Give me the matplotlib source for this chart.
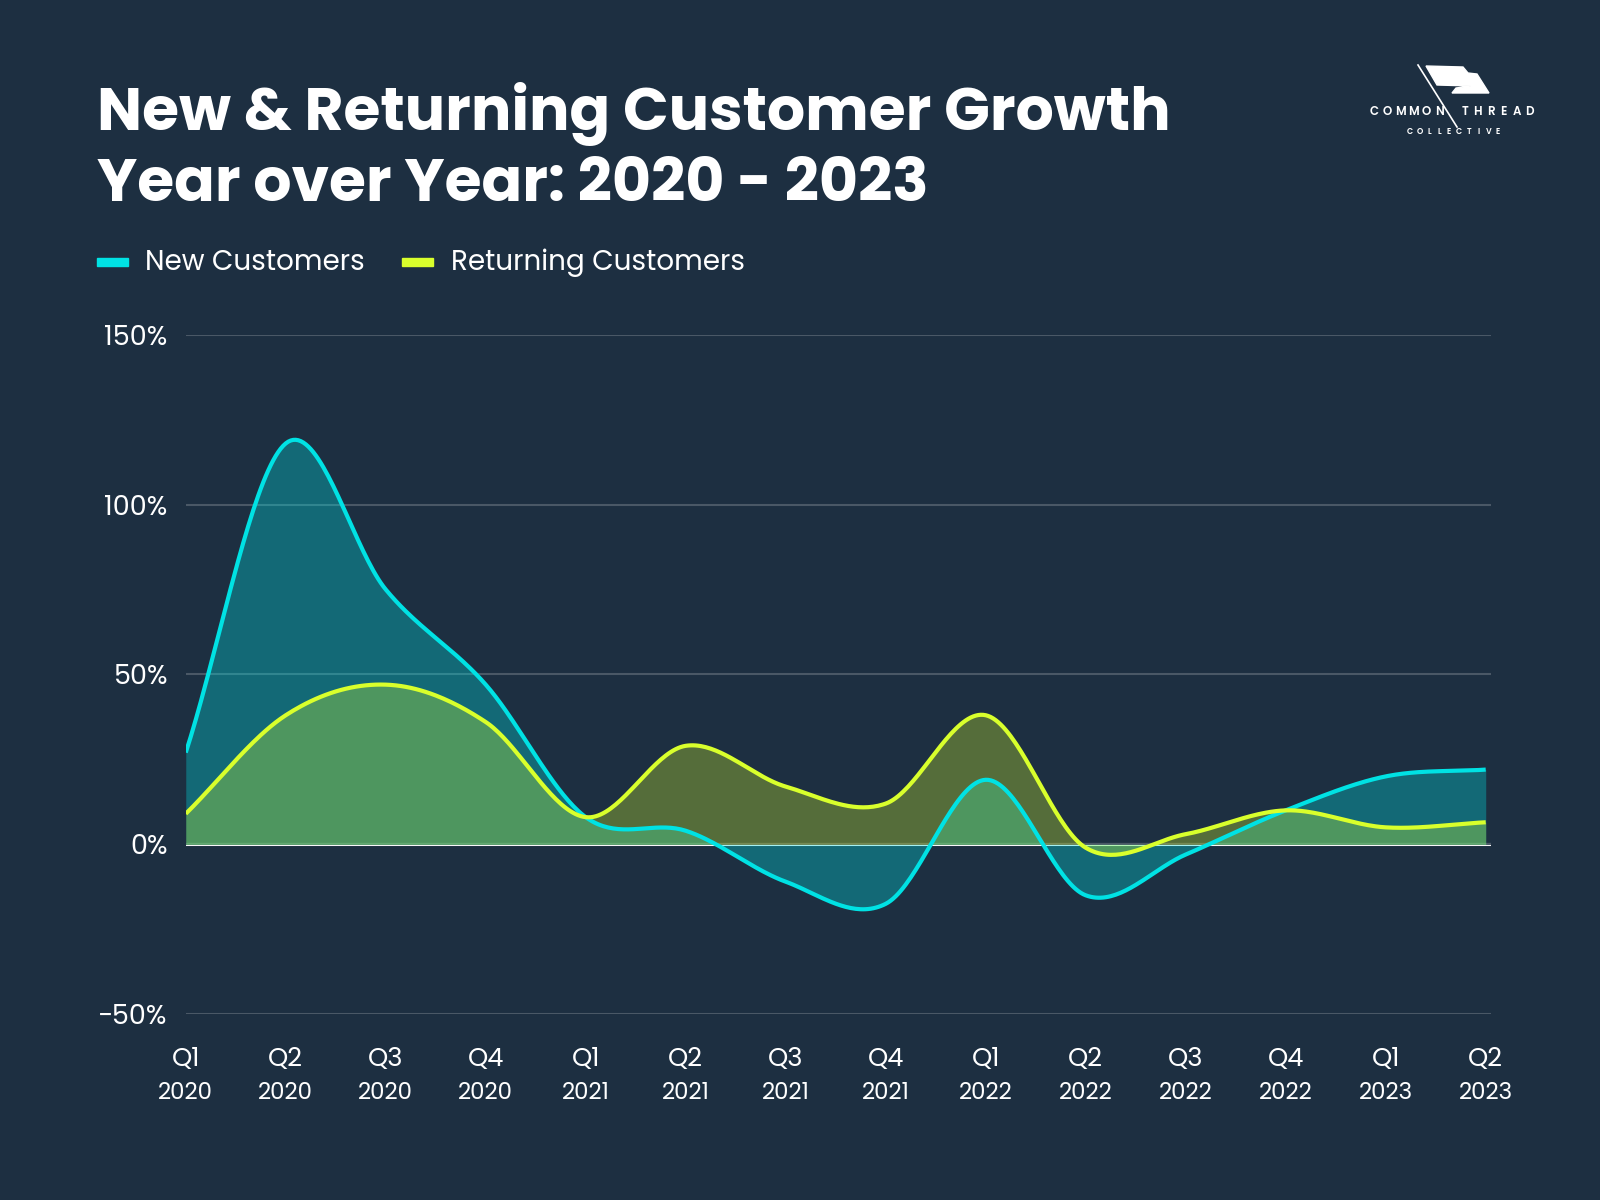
import numpy as np
from matplotlib import pyplot as plt
from matplotlib.patches import Polygon, Rectangle
from matplotlib.lines import Line2D

quarters = ['Q1', 'Q2', 'Q3', 'Q4', 'Q1', 'Q2', 'Q3', 'Q4', 'Q1', 'Q2', 'Q3', 'Q4', 'Q1', 'Q2']
years = ['2020'] * 4 + ['2021'] * 4 + ['2022'] * 4 + ['2023'] * 2
new_customers = [27, 118, 75, 47, 8, 4, -11, -17.5, 19, -15, -3, 10, 20, 22]
returning_customers = [9, 38, 47, 36, 8, 29, 17, 12, 38, -1, 3, 10, 5, 6.5]

BG = '#1d2f41'
CYAN = '#00e2e4'
YELLOW = '#d9ff2c'
GRID = '#4a5866'


def smooth(_y, _n=40):
    # catmull-rom curve through the points, only for drawing
    _y = np.asarray(_y, dtype=np.float64)
    _m = np.zeros_like(_y)
    _m[1:-1] = (_y[2:] - _y[:-2]) / 2
    _m[0] = _y[1] - _y[0]
    _m[-1] = _y[-1] - _y[-2]
    xs, ys = [], []
    for i in range(len(_y) - 1):
        t = np.linspace(0, 1, _n, endpoint=False)
        h00 = 2 * t ** 3 - 3 * t ** 2 + 1
        h10 = t ** 3 - 2 * t ** 2 + t
        h01 = -2 * t ** 3 + 3 * t ** 2
        h11 = t ** 3 - t ** 2
        xs.append(i + t)
        ys.append(h00 * _y[i] + h10 * _m[i] + h01 * _y[i + 1] + h11 * _m[i + 1])
    xs.append(np.array([len(_y) - 1.0]))
    ys.append(np.array([_y[-1]]))
    return np.concatenate(xs), np.concatenate(ys)


def spaced(text, xc, y, step, size):
    # letter-spaced logo text, centred on xc (figure pixels)
    x0 = xc - step * (len(text) - 1) / 2
    for k, ch in enumerate(text):
        fig.text((x0 + k * step) / 1600, 1 - y / 1200, ch, color='white', fontsize=size,
                 fontweight='semibold', ha='center', va='center')


plt.rcParams['font.family'] = ['Poppins', 'Lato', 'DejaVu Sans']

fig = plt.figure(figsize=(16, 12), dpi=100, facecolor=BG)
ax = fig.add_axes([0.1161, 0.1548, 0.8156, 0.5663])
ax.set_facecolor(BG)

x = np.arange(len(quarters))
xn, yn = smooth(new_customers)
xr, yr = smooth(returning_customers)

ax.axhline(0, color='white', lw=2.2, zorder=1)
ax.fill_between(xn, yn, 0, color=CYAN, alpha=0.33, lw=0, zorder=2)
ax.fill_between(xr, yr, 0, color=YELLOW, alpha=0.3, lw=0, zorder=3)
ax.plot(xn, yn, color=CYAN, lw=3, zorder=5, solid_capstyle='butt')
ax.plot(xr, yr, color=YELLOW, lw=3, zorder=6, solid_capstyle='butt')

ax.set_xlim(0, 13.05)
ax.set_ylim(-50, 150)
ax.set_yticks([-50, 0, 50, 100, 150])
ax.set_yticklabels(['\u221250%', '0%', '50%', '100%', '150%'])
ax.grid(axis='y', color=GRID, lw=1.5, zorder=0)
ax.set_xticks(x)
ax.set_xticklabels([''] * len(x))
for i in range(len(x)):
    ax.text(x[i], -59.5, quarters[i], ha='center', va='top', color='white', fontsize=18.5)
    ax.text(x[i], -70, years[i], ha='center', va='top', color='white', fontsize=16.5)
ax.tick_params(axis='both', length=0, colors='white', labelsize=19.5)
ax.tick_params(axis='y', pad=13)
for s in ax.spines.values():
    s.set_visible(False)

# title and legend
fig.text(97 / 1600, 1 - 130 / 1200, 'New & Returning Customer Growth', color='white',
         fontsize=43.2, fontweight='bold', ha='left', va='baseline')
fig.text(97 / 1600, 1 - 201 / 1200, 'Year over Year: 2020 - 2023', color='white',
         fontsize=43.2, fontweight='bold', ha='left', va='baseline')

fig.patches.append(Rectangle((97 / 1600, 1 - 266 / 1200), 31 / 1600, 8 / 1200,
                             transform=fig.transFigure, color=CYAN))
fig.text(145 / 1600, 1 - 263 / 1200, 'New Customers', color='white', fontsize=20,
         ha='left', va='center')
fig.patches.append(Rectangle((402 / 1600, 1 - 266 / 1200), 31 / 1600, 8 / 1200,
                             transform=fig.transFigure, color=YELLOW))
fig.text(451 / 1600, 1 - 263 / 1200, 'Returning Customers', color='white', fontsize=20,
         ha='left', va='center')

# logo
flag = [(1426, 66), (1463, 67), (1468, 73), (1477, 74), (1489, 93), (1452, 93),
        (1456, 88), (1471, 86), (1437, 85)]
fig.patches.append(Polygon([(px / 1600, 1 - py / 1200) for px, py in flag],
                           closed=True, transform=fig.transFigure, color='white'))
fig.lines.append(Line2D([1418 / 1600, 1457 / 1600], [1 - 65 / 1200, 1 - 127 / 1200],
                        transform=fig.transFigure, color='white', lw=1.2))
spaced('COMMON THREAD', 1452, 112, 12.9, 8.5)
spaced('COLLECTIVE', 1454, 132, 9.8, 5.8)

plt.savefig('out.png', dpi=100, facecolor=BG)
